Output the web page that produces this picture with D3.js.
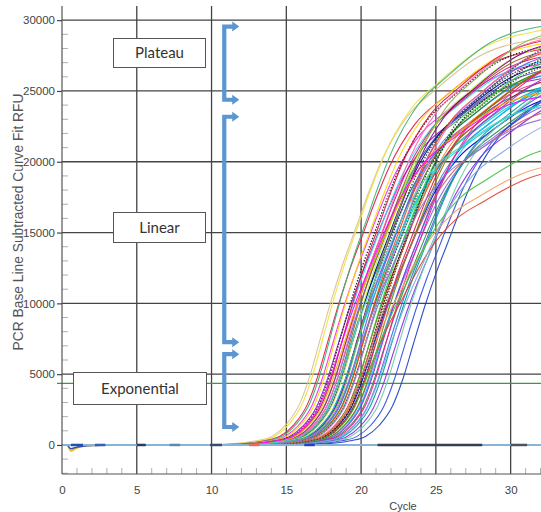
<!DOCTYPE html>
<html><head><meta charset="utf-8">
<script src="https://cdn.jsdelivr.net/npm/d3@7"></script>
<style>html,body{margin:0;padding:0;background:#fff;} svg{display:block;}</style>
</head><body>
<svg id="chart" width="541" height="512"></svg>
<script>
// ---------------- data ----------------
const xTicks = [0, 5, 10, 15, 20, 25, 30];
const yTicks = [0, 5000, 10000, 15000, 20000, 25000, 30000];
const xLabel = "Cycle";
const yLabel = "PCR Base Line Subtracted Curve Fit RFU";
const thresholdRFU = 4350;

// shape of a representative amplification trace:
// cycle offset from its mid point, and fraction of its final level
const profileOffset   = [-10, -8.5, -7.5, -6.5, -5.5, -4.6, -3.7, -3.0, -2.3, -1.55, -0.8, 0, 0.9, 1.8, 3.5, 5.4, 8.3, 12.3, 16];
const profileFraction = [0, 0.002, 0.005, 0.011, 0.022, 0.05, 0.10, 0.17, 0.26, 0.355, 0.44, 0.52, 0.61, 0.69, 0.795, 0.86, 0.94, 0.983, 1.0];

// per-well mid cycle and final RFU level
const curveMid = [19.6, 19.8, 20.1, 20.3, 20.4, 20.6, 20.7, 20.9, 21.0, 21.1,
                  21.2, 21.3, 21.4, 21.5, 21.5, 21.6, 21.7, 21.8, 21.9, 22.0,
                  22.0, 22.1, 22.2, 22.3, 22.4, 22.5, 22.5, 22.6, 22.7, 22.8,
                  22.9, 23.0, 23.0, 23.1, 23.2, 23.3, 23.4, 23.5, 23.6, 23.7,
                  23.8, 24.0, 24.1, 24.3, 24.5, 24.8, 25.2, 25.8, 22.5, 22.8,
                  23.0, 24.0, 21.0, 21.8, 22.2, 22.8, 23.3, 20.8, 21.4, 22.0];
const curvePlateau = [29200, 29800, 28500, 30200, 27500, 29000, 26500, 28800, 27800, 29300,
                      26800, 28200, 27200, 29500, 26000, 28600, 27600, 29000, 26500, 28000,
                      27000, 29200, 25800, 28400, 27400, 28800, 26200, 27800, 29000, 26800,
                      28200, 25500, 27600, 28600, 26400, 27800, 25200, 28000, 26800, 27400,
                      25800, 28200, 26500, 27000, 25600, 27200, 26800, 27500, 20400, 20000,
                      21800, 24000, 25500, 24800, 30000, 24500, 29400, 25200, 24600, 23800];
const curveColor = ['#d8c090', '#f0e040', '#e6194b', '#3cb371', '#f032e6', '#ffd700', '#911eb4', '#222222', '#42d4f4', '#dc143c',
                    '#3cb44b', '#c71585', '#4363d8', '#ff69b4', '#008080', '#9a6324', '#000080', '#bfef45', '#e04090', '#333333',
                    '#1e90ff', '#8b008b', '#00ced1', '#6a5acd', '#228b22', '#ff4500', '#20b2aa', '#5a3a1a', '#da70d6', '#b22222',
                    '#32cd32', '#0000cd', '#f58231', '#1a1a1a', '#4682b4', '#e6194b', '#7b68ee', '#808000', '#00bfff', '#9932cc',
                    '#2e8b57', '#ff1493', '#4169e1', '#00a0a0', '#8a2be2', '#66cdaa', '#3050e0', '#2040c0', '#f5a060', '#e04030',
                    '#40c040', '#80a8e0', '#ffa500', '#00ced1', '#7cb342', '#cd5c5c', '#2f4f4f', '#ff00ff', '#48d1cc', '#9370db'];
const dottedCurves = [7, 19, 27, 33, 56];

// phase annotations (label, RFU span of bracket)
const phaseNames  = ["Plateau", "Linear", "Exponential"];
const phaseTop    = [29550, 23180, 6410];
const phaseBottom = [24380, 7260, 1270];

// short marks lying on the baseline (cycle from, cycle to)
const baseStart = [21.1, 30.0, 16.2, 2.2, 5.0, 7.2, 9.9, 12.5, 0.6];
const baseEnd   = [28.1, 31.1, 16.9, 2.9, 5.6, 7.9, 10.7, 13.2, 1.4];
const baseColor = ['#34404e', '#4a5560', '#2040c0', '#3060c0', '#2a3a5a', '#5a8ab0', '#3a4a6a', '#e07060', '#2050b0'];
// early baseline wobble of a few wells (cycle, RFU)
const wobbleCycles = [0.4, 0.6, 0.9, 1.4, 2.2, 3.0];
const wobbleYellow = [0, -420, -260, -80, -20, 0];
const wobbleBlue   = [-60, -260, -180, -90, -30, 0];

// ---------------- chart ----------------
const svg = d3.select("#chart");
const x = d3.scaleLinear().domain([0, 32.03]).range([62, 541]);
const y = d3.scaleLinear().domain([-2050, 31000]).range([474, 6]);
const pL = 62, pR = 541, pT = 6, pB = 474;

svg.append("defs").append("clipPath").attr("id", "plotclip")
  .append("rect").attr("x", pL).attr("y", pT).attr("width", pR - pL).attr("height", pB - pT);

// gridlines
const grid = svg.append("g");
grid.selectAll(".hg").data(yTicks).join("line")
  .attr("x1", pL).attr("x2", pR).attr("y1", d => y(d)).attr("y2", d => y(d))
  .attr("stroke", "#444").attr("stroke-width", 1.3);
grid.selectAll(".vg").data(xTicks.filter(d => d > 0)).join("line")
  .attr("x1", d => x(d)).attr("x2", d => x(d)).attr("y1", pT).attr("y2", pB)
  .attr("stroke", "#444").attr("stroke-width", 1.3);

// minor ticks
const yMinor = d3.range(-2000, 31000, 1000).filter(v => v % 5000 !== 0);
svg.append("g").selectAll("line").data(yMinor).join("line")
  .attr("x1", pL).attr("x2", pL + 6).attr("y1", d => y(d)).attr("y2", d => y(d))
  .attr("stroke", "#b0b0b0").attr("stroke-width", 1);
const xMinor = d3.range(1, 33).filter(v => v % 5 !== 0);
svg.append("g").selectAll("line").data(xMinor).join("line")
  .attr("x1", d => x(d)).attr("x2", d => x(d)).attr("y1", pB).attr("y2", pB - 6)
  .attr("stroke", "#b0b0b0").attr("stroke-width", 1);

// threshold
svg.append("line").attr("x1", pL - 5).attr("x2", pR)
  .attr("y1", y(thresholdRFU)).attr("y2", y(thresholdRFU))
  .attr("stroke", "#3a9a3a").attr("stroke-width", 1.3);

// curves
const line = d3.line().x(d => x(d[0])).y(d => y(d[1])).curve(d3.curveMonotoneX);
const curves = svg.append("g").attr("clip-path", "url(#plotclip)");
curveMid.forEach((m, i) => {
  const F = curvePlateau[i];
  const pts = [[0, 0]].concat(profileOffset.map((o, k) => [m + o, F * profileFraction[k]]));
  curves.append("path").attr("d", line(pts))
    .attr("fill", "none").attr("stroke", curveColor[i])
    .attr("stroke-width", dottedCurves.includes(i) ? 1.3 : 1.1)
    .attr("stroke-dasharray", dottedCurves.includes(i) ? "1.5,1.5" : null)
    .attr("stroke-opacity", 0.92);
});

// baseline
const base = svg.append("g").attr("clip-path", "url(#plotclip)");
base.append("path").attr("d", line(wobbleCycles.map((c, k) => [c, wobbleYellow[k]])))
  .attr("fill", "none").attr("stroke", "#f0c020").attr("stroke-width", 2);
base.append("path").attr("d", line(wobbleCycles.map((c, k) => [c, wobbleBlue[k]])))
  .attr("fill", "none").attr("stroke", "#3050b0").attr("stroke-width", 1.5);
base.append("line").attr("x1", pL).attr("x2", pR).attr("y1", y(0)).attr("y2", y(0))
  .attr("stroke", "#86b4d8").attr("stroke-width", 2);
base.selectAll(".bs").data(baseStart).join("line")
  .attr("x1", d => x(d)).attr("x2", (d, i) => x(baseEnd[i]))
  .attr("y1", y(0)).attr("y2", y(0))
  .attr("stroke", (d, i) => baseColor[i]).attr("stroke-width", 2.5);

// axes lines
svg.append("line").attr("x1", pL).attr("x2", pL).attr("y1", pT).attr("y2", pB)
  .attr("stroke", "#555").attr("stroke-width", 1.2);
svg.append("line").attr("x1", pL).attr("x2", pR).attr("y1", pB).attr("y2", pB)
  .attr("stroke", "#555").attr("stroke-width", 1.2);

// y axis ticks + labels
const yAxis = svg.append("g").attr("transform", `translate(${pL},0)`)
  .call(d3.axisLeft(y).tickValues(yTicks).tickSize(5).tickPadding(2).tickFormat(d3.format("d")));
yAxis.select(".domain").remove();
yAxis.selectAll("line").attr("stroke", "#444").attr("stroke-width", 1.2);
yAxis.selectAll("text").attr("font-family", "'Liberation Sans', Arial, sans-serif")
  .attr("font-size", 11.5).attr("fill", "#444");

// x axis labels
const xAxis = svg.append("g").attr("transform", `translate(0,${pB})`)
  .call(d3.axisBottom(x).tickValues(xTicks).tickSize(0).tickPadding(12).tickFormat(d3.format("d")));
xAxis.select(".domain").remove();
xAxis.selectAll("text").attr("font-family", "'Liberation Sans', Arial, sans-serif")
  .attr("font-size", 11.5).attr("fill", "#444");

svg.append("text").attr("x", 403).attr("y", 510).attr("text-anchor", "middle")
  .attr("font-family", "'Liberation Sans', Arial, sans-serif").attr("font-size", 11).attr("fill", "#444")
  .text(xLabel);
svg.append("text").attr("transform", "translate(23,222) rotate(-90)").attr("text-anchor", "middle")
  .attr("font-family", "'Liberation Sans', Arial, sans-serif").attr("font-size", 13.8).attr("fill", "#555")
  .text(yLabel);

// phase labels in boxes
const boxes = [
  {x: 113, y: 38, w: 92, h: 29},
  {x: 113, y: 212, w: 92, h: 30},
  {x: 73, y: 372, w: 133, h: 32}
];
phaseNames.forEach((name, i) => {
  const b = boxes[i];
  svg.append("rect").attr("x", b.x + 0.5).attr("y", b.y + 0.5).attr("width", b.w).attr("height", b.h)
    .attr("fill", "#fff").attr("stroke", "#555").attr("stroke-width", 1);
  svg.append("text").attr("x", b.x + b.w / 2 + 0.5).attr("y", b.y + b.h / 2 + 5.5)
    .attr("text-anchor", "middle").attr("font-family", "Lato, 'Open Sans', sans-serif")
    .attr("font-size", 15).attr("fill", "#333").text(name);
});

// brackets
const bx = x(10.85);
const blue = "#5b96d0";
phaseNames.forEach((name, i) => {
  const yt = y(phaseTop[i]), yb = y(phaseBottom[i]);
  const g = svg.append("g");
  g.append("path").attr("d", `M${bx + 9},${yt} H${bx} V${yb} H${bx + 9}`)
    .attr("fill", "none").attr("stroke", blue).attr("stroke-width", 4.2).attr("stroke-linejoin", "miter");
  [yt, yb].forEach(yy => {
    g.append("path").attr("d", `M${bx + 8},${yy - 5} L${bx + 15},${yy} L${bx + 8},${yy + 5} Z`)
      .attr("fill", blue);
  });
});
</script>
</body></html>
